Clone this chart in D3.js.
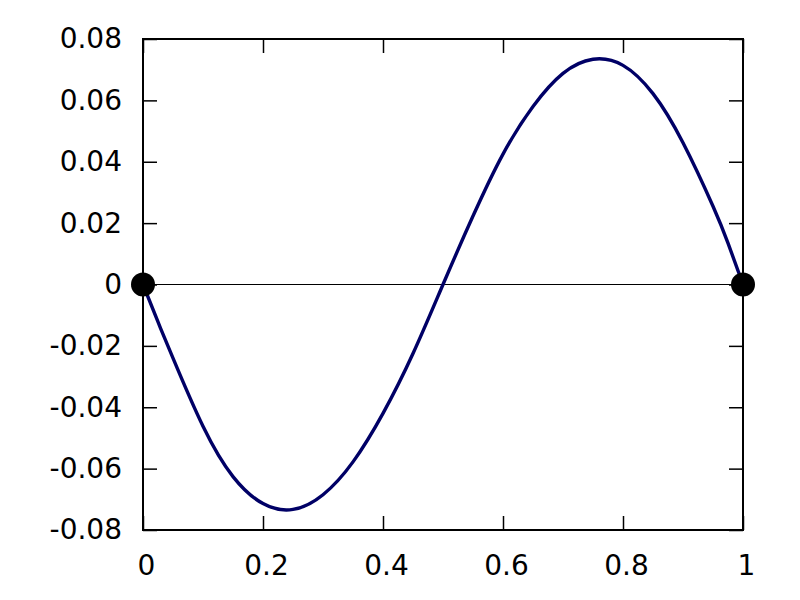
<!DOCTYPE html>
<html>
<head>
<meta charset="utf-8">
<script src="https://cdn.jsdelivr.net/npm/d3@7"></script>
<style>
  body { margin: 0; background: #fff; }
  text { font-family: "DejaVu Sans", sans-serif; }
</style>
</head>
<body>
<div id="chart"></div>
<script>
// curve samples
const xs = [0, 0.025, 0.05, 0.1, 0.15, 0.2, 0.25, 0.3, 0.35, 0.4, 0.45, 0.5,
    0.55, 0.6, 0.65, 0.7, 0.75, 0.8, 0.85, 0.9, 0.95, 0.975, 1];
const ys = [0, -0.0122, -0.0240, -0.0462, -0.0626, -0.0714, -0.0733, -0.0685, -0.0578, -0.0420, -0.0225, 0,
    0.0223, 0.0425, 0.0580, 0.0688, 0.0734, 0.0714, 0.0622, 0.0462, 0.0255, 0.0135, 0];
const dotX = [0, 1];
const dotY = [0, 0];
const xTicks = [0, 0.2, 0.4, 0.6, 0.8, 1];
const yTicks = [-0.08, -0.06, -0.04, -0.02, 0, 0.02, 0.04, 0.06, 0.08];

let width = 800, height = 600;
let margin = { top: 39, right: 57, bottom: 70, left: 143 };
let w = width - margin.left - margin.right,
    h = height - margin.top - margin.bottom;

let svg = d3.select("#chart").append("svg")
    .attr("width", width)
    .attr("height", height);

let g = svg.append("g")
    .attr("transform", "translate(" + margin.left + "," + margin.top + ")");

let x = d3.scaleLinear().domain([0, 1]).range([0, w]);
let y = d3.scaleLinear().domain([-0.08, 0.08]).range([h, 0]);

// plain hyphen minus like the original
let fmt = d => d === 0 ? "0" : String(+d.toFixed(2));

// axes with inward ticks, mirrored on top/right
let tickLen = 14;
let xAxis = d3.axisBottom(x).tickValues(xTicks).tickSize(-tickLen).tickFormat(fmt).tickPadding(25);
let yAxis = d3.axisLeft(y).tickValues(yTicks).tickSize(-tickLen).tickFormat(fmt).tickPadding(34);

let xg = g.append("g").attr("transform", "translate(0," + h + ")").call(xAxis);
let yg = g.append("g").call(yAxis);
g.append("g").call(d3.axisTop(x).tickValues(xTicks).tickSize(-tickLen).tickFormat(""));
g.append("g").attr("transform", "translate(" + w + ",0)")
    .call(d3.axisRight(y).tickValues(yTicks).tickSize(-tickLen).tickFormat(""));

g.selectAll(".domain").remove();
g.selectAll(".tick line").attr("stroke", "#000").attr("stroke-width", 1.5);
g.selectAll(".tick text")
    .attr("fill", "#000")
    .style("font-size", "28px");
xg.selectAll(".tick text").attr("dx", 3);
yg.selectAll(".tick text").attr("dx", 13);

// zero line
g.append("line")
    .attr("x1", 0).attr("x2", w)
    .attr("y1", y(0)).attr("y2", y(0))
    .attr("stroke", "#000").attr("stroke-width", 1);

// frame
g.append("rect")
    .attr("width", w).attr("height", h)
    .attr("fill", "none").attr("stroke", "#000").attr("stroke-width", 2);

// curve
let line = d3.line()
    .x((d, i) => x(xs[i]))
    .y(d => y(d))
    .curve(d3.curveNatural);

g.append("path")
    .datum(ys)
    .attr("d", line)
    .attr("fill", "none")
    .attr("stroke", "#000066")
    .attr("stroke-width", 3.4);

// end points
g.selectAll(".dot")
    .data(dotX)
    .enter()
    .append("circle")
    .attr("class", "dot")
    .attr("cx", d => x(d))
    .attr("cy", (d, i) => y(dotY[i]))
    .attr("r", 12)
    .attr("fill", "#000");
</script>
</body>
</html>
